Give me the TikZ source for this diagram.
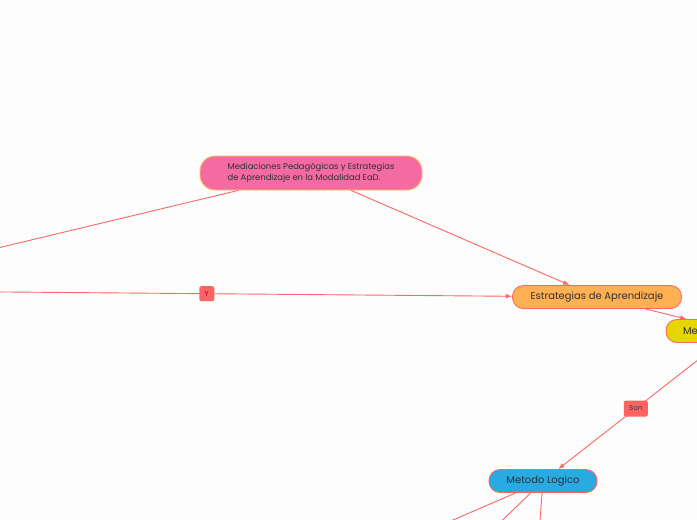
\documentclass[tikz,border=0pt]{standalone}
\usepackage{fontspec}
\setmainfont{Poppins}
\usetikzlibrary{arrows.meta,positioning,calc}
\definecolor{bg}{RGB}{253,253,253}
\definecolor{line}{RGB}{255,102,102}
\definecolor{tag}{RGB}{255,100,98}
\definecolor{ink}{RGB}{50,48,58}
\definecolor{rose}{RGB}{243,107,160}
\definecolor{gold}{RGB}{255,190,100}
\definecolor{peach}{RGB}{255,176,82}
\definecolor{lemon}{RGB}{230,214,0}
\definecolor{sky}{RGB}{41,171,226}
\tikzset{
  conn/.style={draw=line,line width=0.9pt},
  arr/.style={conn,-{Latex[length=2.2mm,width=1.7mm]}},
  topic/.style={draw=line,line width=0.9pt,rounded corners=11pt,minimum height=23pt,
    text=ink,font=\fontsize{10}{12}\selectfont},
  lbl/.style={fill=tag,rounded corners=2pt,text=ink,font=\fontsize{7}{8}\selectfont,
    minimum height=15pt,minimum width=15pt,inner sep=2pt}
}
\begin{document}
\begin{tikzpicture}[x=1pt,y=-1pt]
  \useasboundingbox (0,0) rectangle (697,520);
  \clip (0,0) rectangle (697,520);
  \fill[bg] (0,0) rectangle (697,520);

  % main topic
  \node[topic,fill=rose,draw=gold,rounded corners=15pt,minimum width=222pt,minimum height=34pt,
    align=left,font=\fontsize{8.4}{11.5}\selectfont] (med) at (311,173)
    {Mediaciones Pedagógicas y Estrategias\\de Aprendizaje en la Modalidad EaD.};

  % subtopics
  \node[topic,fill=peach,minimum width=169pt] (estr) at (597,297) {Estrategias de Aprendizaje};
  \node[topic,fill=lemon,minimum width=138pt,text width=104pt,inner xsep=17pt,align=left]
    (metd) at (735,331) {Me};
  \node[topic,fill=sky,minimum width=108pt] (logi) at (543,481) {Metodo Logico};

  % loose ends beyond the frame
  \coordinate (offL) at (-40,257);
  \coordinate (offY) at (-40,291.6);
  \coordinate (offA) at (407,540);
  \coordinate (offB) at (482,540);
  \coordinate (offC) at (538.5,540);

  % connectors
  \draw[conn] (med) -- (offL);
  \draw[arr] (med) -- (estr);
  \draw[arr] (offY) -- node[lbl,pos=0.447] (y) {Y} (estr);
  \draw[arr] (estr) -- (metd);
  \draw[arr] (metd) -- node[lbl,minimum width=24pt,minimum height=16pt,pos=0.52] (son) {Son} (logi);
  \draw[conn] (logi) -- (offA);
  \draw[conn] (logi) -- (offB);
  \draw[conn] (logi) -- (offC);
\end{tikzpicture}
\end{document}
